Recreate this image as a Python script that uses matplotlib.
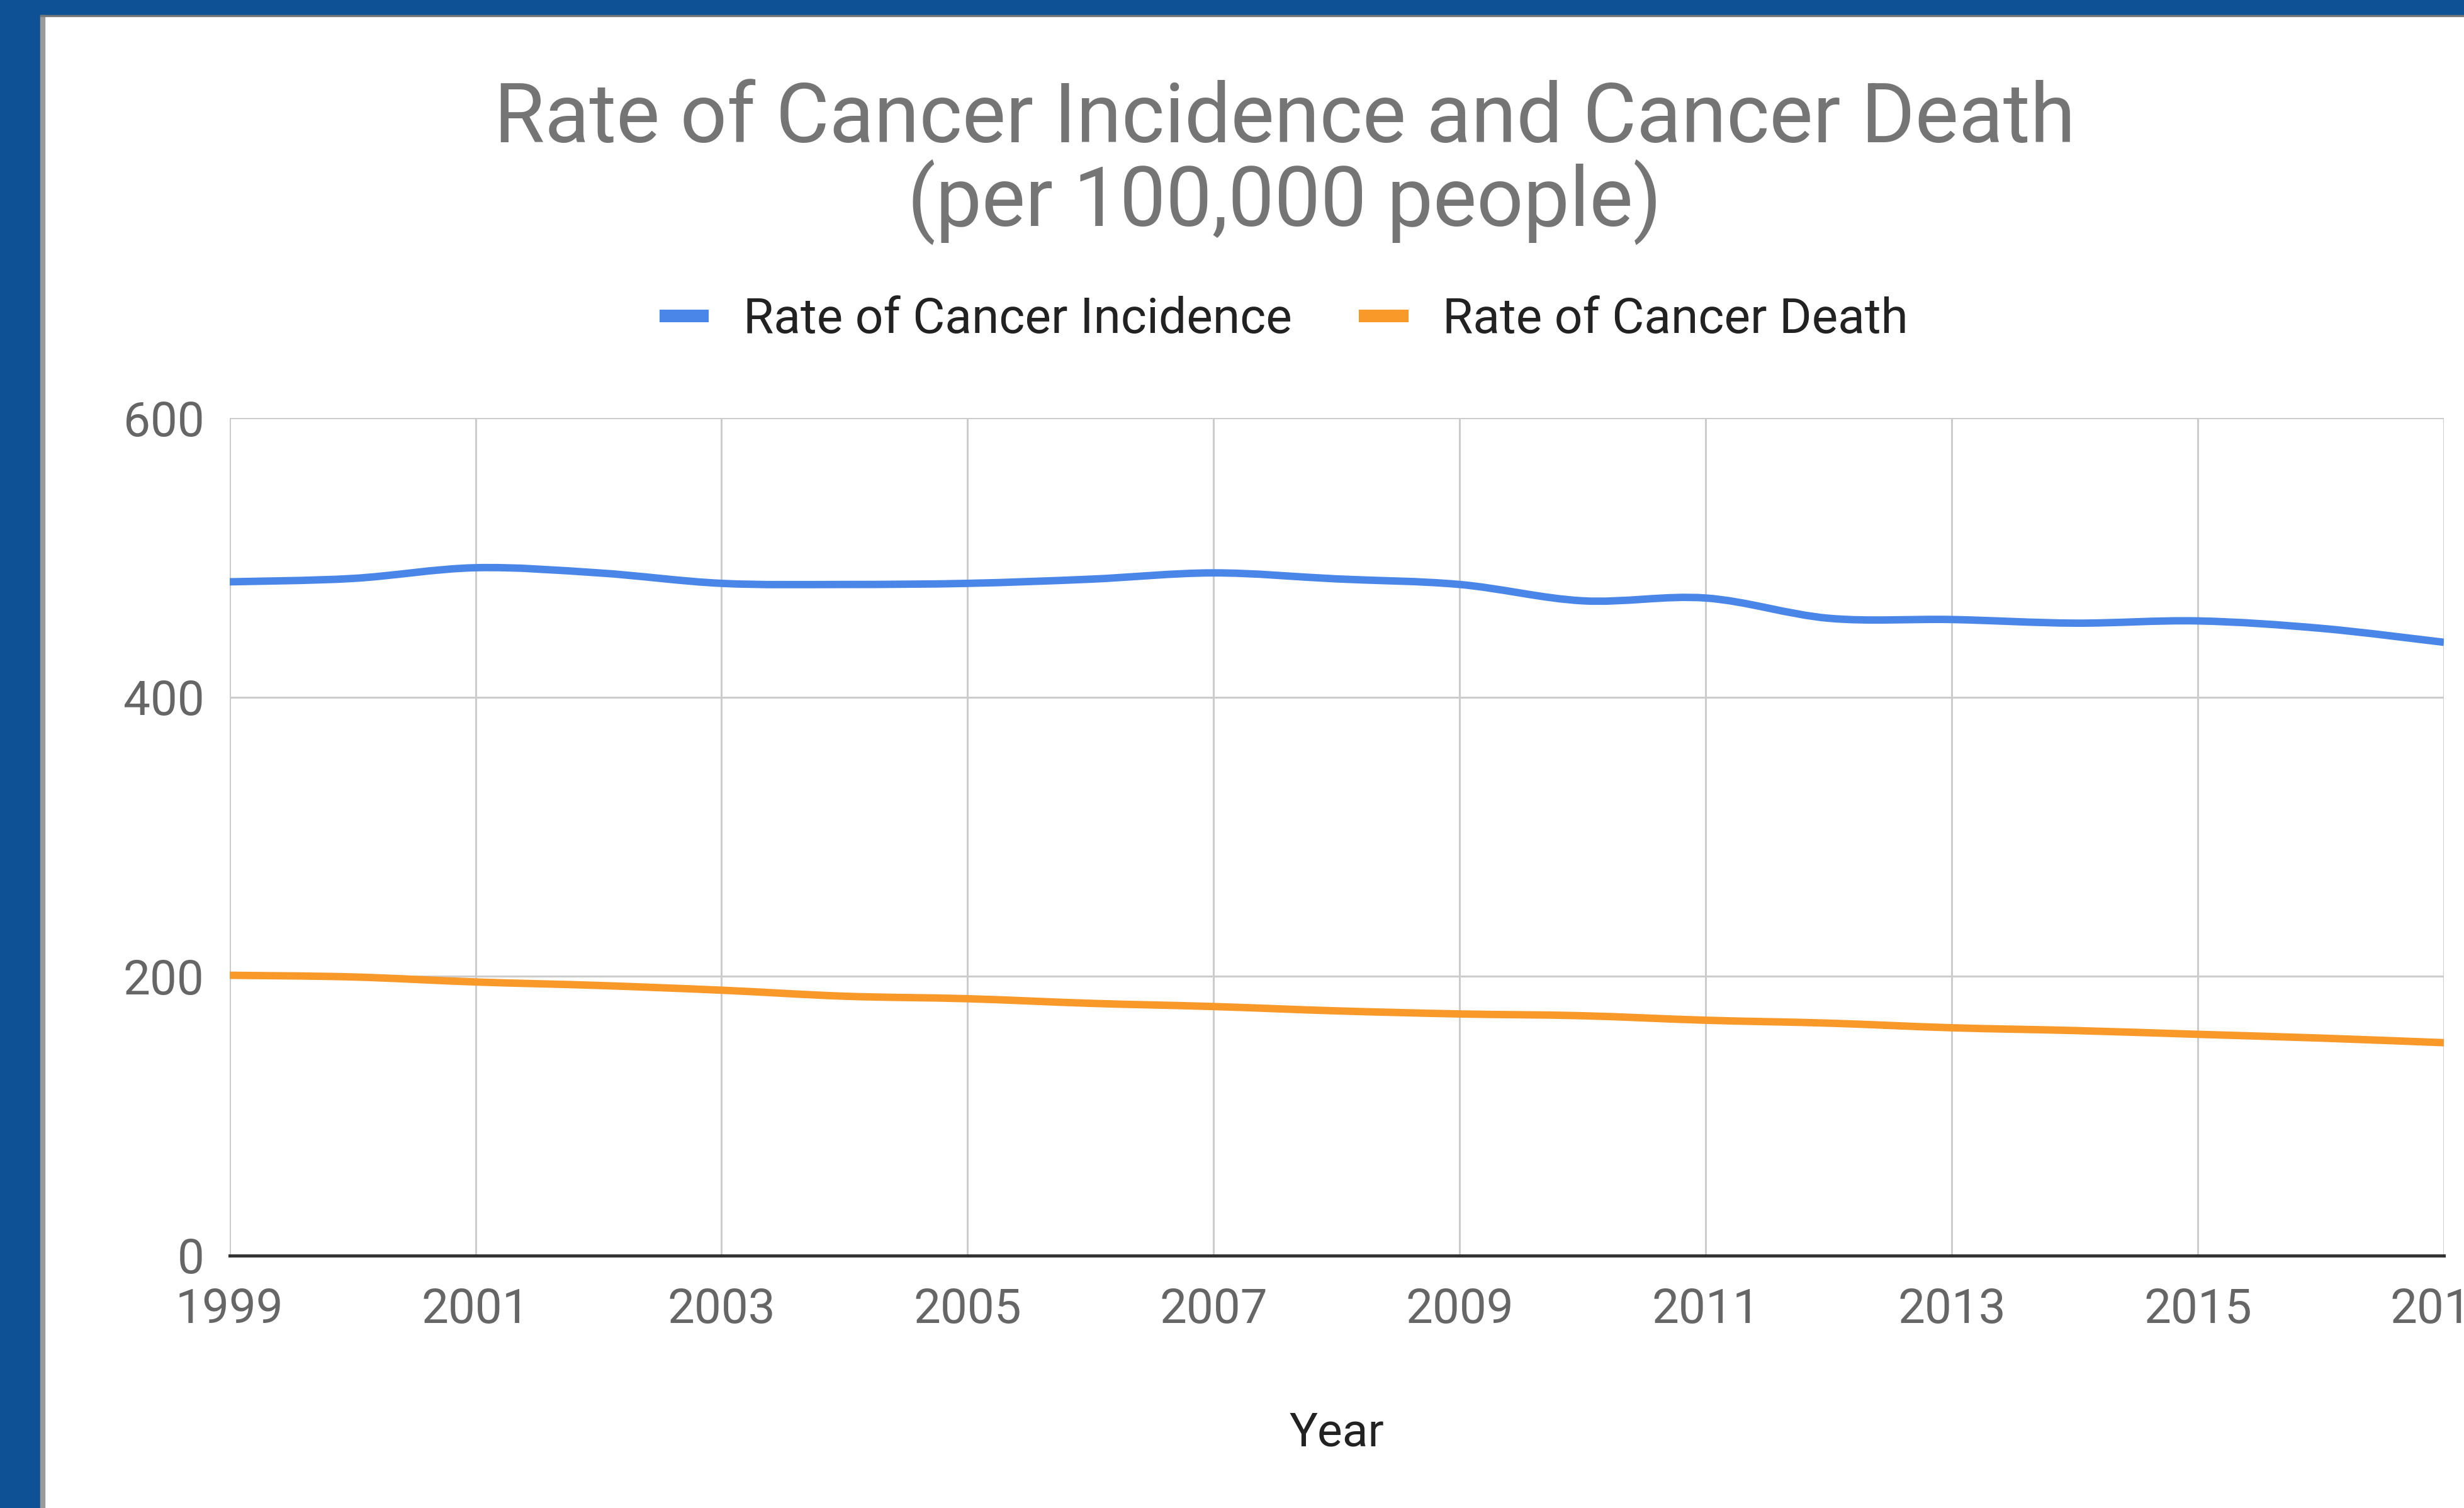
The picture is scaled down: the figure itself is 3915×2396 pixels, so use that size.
import numpy as np
import matplotlib
matplotlib.use("Agg")
import matplotlib.pyplot as plt
from matplotlib.path import Path
from matplotlib.patches import PathPatch, Rectangle
from matplotlib.lines import Line2D

plt.rcParams['font.family'] = ['Roboto', 'DejaVu Sans']

# values
years = list(range(1999, 2018))
incidence = [482.6, 485.0, 492.7, 489.0, 481.5, 480.7, 481.5, 484.5, 489.0, 484.7,
             480.7, 469.0, 471.0, 456.5, 455.6, 453.0, 454.6, 449.3, 439.3]
deaths = [200.8, 199.6, 196.0, 193.5, 190.1, 185.8, 184.0, 180.7, 178.4, 175.3,
          173.1, 171.8, 168.6, 166.5, 163.2, 161.2, 158.5, 155.8, 152.5]
series_names = ["Rate of Cancer Incidence", "Rate of Cancer Death"]
colors = ["#4a86e8", "#f8992a"]
x_ticks = list(range(1999, 2018, 2))
y_ticks = [0, 200, 400, 600]


def smooth_path(x, y):
    # catmull-rom through the points, as bezier segments
    pts = np.column_stack([x, y]).astype(float)
    pad = np.vstack([pts[0], pts, pts[-1]])
    verts = [pts[0]]
    codes = [Path.MOVETO]
    for i in range(len(pts) - 1):
        p0, p1, p2, p3 = pad[i], pad[i + 1], pad[i + 2], pad[i + 3]
        verts += [p1 + (p2 - p0) / 6, p2 - (p3 - p1) / 6, p2]
        codes += [Path.CURVE4] * 3
    return Path(verts, codes)


W, H = 3915, 2396
fig = plt.figure(figsize=(W / 100, H / 100), dpi=100)
fig.patch.set_facecolor("white")

# screenshot frame
fig.add_artist(Rectangle((0, 0), 64 / W, 1, transform=fig.transFigure, color="#0e5295", zorder=5))
fig.add_artist(Rectangle((0, 1 - 24 / H), 1, 24 / H, transform=fig.transFigure, color="#0e5295", zorder=5))
fig.add_artist(Rectangle((64 / W, 0), 7 / W, 1 - 24 / H, transform=fig.transFigure, color="#9a9a9a", zorder=5))
fig.add_artist(Rectangle((64 / W, 1 - 26 / H), 1, 2 / H, transform=fig.transFigure, color="#777777", zorder=5))

ax = fig.add_axes([364.6 / W, 401 / H, (3883 - 364.6) / W, (1995 - 664) / H])

for vals, c in zip([incidence, deaths], colors):
    ax.add_patch(PathPatch(smooth_path(years, vals), fill=False, edgecolor=c,
                           linewidth=8.5, capstyle="butt", zorder=3))

ax.set_xlim(1999, 2017)
ax.set_ylim(0, 600)
ax.set_xticks(x_ticks)
ax.set_yticks(y_ticks)
ax.grid(True, color="#cccccc", linewidth=2.2)
ax.set_axisbelow(True)
for s in ["top", "right", "left"]:
    ax.spines[s].set_visible(False)
ax.spines["bottom"].set_color("#333333")
ax.spines["bottom"].set_linewidth(3.6)
ax.spines["bottom"].set_zorder(4)
ax.tick_params(length=0, labelsize=55, labelcolor="#666666")
ax.tick_params(axis="x", pad=36)
ax.tick_params(axis="y", pad=29)
ax.set_xlabel("Year", fontsize=54, color="#222222", labelpad=89)

fig.text(0.5214, 1 - 190 / H, "Rate of Cancer Incidence and Cancer Death",
         ha="center", va="center", fontsize=94, color="#757575")
fig.text(0.5214, 1 - 322 / H, "(per 100,000 people)",
         ha="center", va="center", fontsize=94, color="#757575")

handles = [Line2D([], [], color=c, linewidth=14.4, solid_capstyle="butt") for c in colors]
fig.legend(handles, series_names, loc="center", bbox_to_anchor=(2040 / W, 1 - 508 / H),
           ncol=2, frameon=False, fontsize=56.5, handlelength=1.0, handletextpad=0.7,
           columnspacing=1.35, labelcolor="#222222")

fig.savefig("out.png", dpi=100)
